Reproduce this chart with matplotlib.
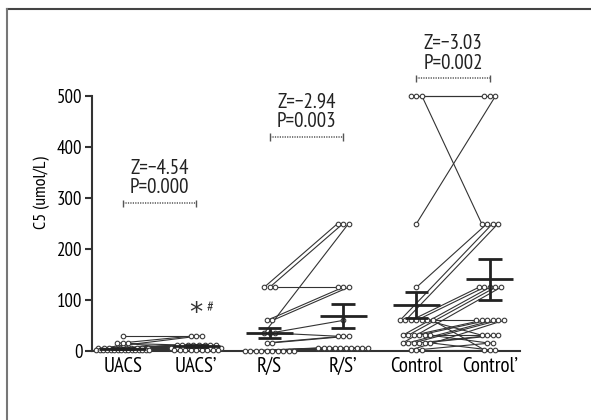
import numpy as np
import matplotlib
matplotlib.use('Agg')
import matplotlib.pyplot as plt
from matplotlib.lines import Line2D

plt.rcParams['font.family'] = ['PT Sans Narrow', 'DejaVu Sans']

# 组名
groups = ['UACS', 'UACS\u2019', 'R/S', 'R/S\u2019', 'Control', 'Control\u2019']

# 配对数据 (前, 后)
uacs_pre = [30, 15, 15, 15, 5, 5, 5, 5, 5, 5, 5, 5, 5, 5,
            1, 1, 1, 1, 1, 1, 1, 1, 1, 1, 1, 1, 1, 1, 1, 1]
uacs_post = [30, 30, 12, 5, 30, 12, 12, 12, 12, 5, 5, 5, 2, 2,
             12, 12, 12, 5, 5, 5, 5, 5, 5, 2, 2, 2, 2, 2, 2, 2]

rs_pre = [125, 125, 125, 60, 60, 35, 35, 35, 16, 16,
          0, 0, 0, 0, 0, 0, 0, 0, 0, 0]
rs_post = [250, 250, 125, 125, 125, 250, 60, 29, 29, 29,
           6, 6, 6, 6, 6, 6, 6, 6, 6, 6]

ctrl_pre = [500, 500, 500, 250, 125, 60, 60, 60, 60, 60, 60, 60,
            31, 31, 31, 31, 31, 31, 16, 16, 16, 16, 16, 16, 2, 2, 2]
ctrl_post = [500, 500, 250, 500, 250, 250, 250, 125, 125, 60, 31, 2,
             125, 125, 60, 60, 31, 16, 125, 60, 60, 31, 31, 2, 60, 16, 2]

# 均值和标准误
means = [4, 10, 35, 69, 90, 141]
sems = [2, 2, 10, 23, 25, 40]

# 统计结果
z_text = ['Z=\u22124.54', 'Z=\u22122.94', 'Z=\u22123.03']
p_text = ['P=0.000', 'P=0.003', 'P=0.002']
bracket_y = [290, 420, 535]


def spread(vals, center):
    vals = np.asarray(vals)
    xs = np.zeros(len(vals))
    for v in np.unique(vals):
        idx = np.where(vals == v)[0]
        n = len(idx)
        step = min(0.075, 0.72 / max(n - 1, 1))
        xs[idx] = center + (np.arange(n) - (n - 1) / 2) * step
    return xs


fig = plt.figure(figsize=(5.91, 4.2), dpi=100)
ax = fig.add_axes([92 / 591, 69 / 420, 428 / 591, 316 / 420])

pairs = [(uacs_pre, uacs_post), (rs_pre, rs_post), (ctrl_pre, ctrl_post)]
for k, (pre, post) in enumerate(pairs):
    x0, x1 = 2 * k, 2 * k + 1
    xa = spread(pre, x0)
    xb = spread(post, x1)
    for i in range(len(pre)):
        ax.plot([xa[i], xb[i]], [pre[i], post[i]], color='#333333', lw=0.8,
                zorder=2, clip_on=False)
    ax.plot(xa, pre, 'o', mfc='white', mec='#3a3a3a', ms=3.3, mew=0.8,
            zorder=3, clip_on=False)
    ax.plot(xb, post, 'o', mfc='white', mec='#3a3a3a', ms=3.3, mew=0.8,
            zorder=3, clip_on=False)

    # 括号和文字
    y = bracket_y[k]
    ax.plot([x0, x1], [y, y], ls=(0, (0.8, 0.8)), lw=1.1, color='#555555')
    ax.vlines([x0, x1], y - 7, y + 7, color='#555555', lw=1)
    xm = (x0 + x1) / 2
    ax.text(xm, y + 69, z_text[k], ha='center', va='center', fontsize=15,
            color='#222222')
    ax.text(xm, y + 30, p_text[k], ha='center', va='center', fontsize=15,
            color='#222222')

# 均值 ± SEM
for i in range(6):
    m, s = means[i], sems[i]
    ax.hlines(m, i - 0.32, i + 0.32, color='#222222', lw=2, zorder=4)
    ax.hlines([m - s, m + s], i - 0.16, i + 0.16, color='#222222', lw=2, zorder=4)
    ax.vlines(i, m - s, m + s, color='#222222', lw=2, zorder=4)

ax.text(1, 72, '*', ha='center', va='center', fontsize=19, color='#333333',
        family='DejaVu Sans')
ax.text(1.19, 84, '#', ha='center', va='center', fontsize=11, color='#333333')

ax.set_xlim(-0.42, 5.41)
ax.set_ylim(0, 620)
ax.set_xticks(range(6))
ax.set_xticklabels(groups, fontsize=15)
ax.set_yticks([0, 100, 200, 300, 400, 500])
ax.tick_params(axis='y', labelsize=13.5, length=5, width=1.5, color='#333333', pad=2)
ax.tick_params(axis='x', length=0, pad=4)
ax.set_ylabel('C5 (umol/L)', fontsize=13, labelpad=5)
ax.spines['top'].set_visible(False)
ax.spines['right'].set_visible(False)
ax.spines['left'].set_bounds(0, 500)
for sp in ['left', 'bottom']:
    ax.spines[sp].set_linewidth(1.5)
    ax.spines[sp].set_color('#333333')
ax.patch.set_visible(False)

# 外框
fig.add_artist(Line2D([7 / 591, 1], [1 - 9 / 420, 1 - 9 / 420],
                      transform=fig.transFigure, color='#444444', lw=1.5))
fig.add_artist(Line2D([7 / 591, 7 / 591], [0, 1 - 9 / 420],
                      transform=fig.transFigure, color='#777777', lw=1.5))

fig.savefig('out.png', dpi=100)
